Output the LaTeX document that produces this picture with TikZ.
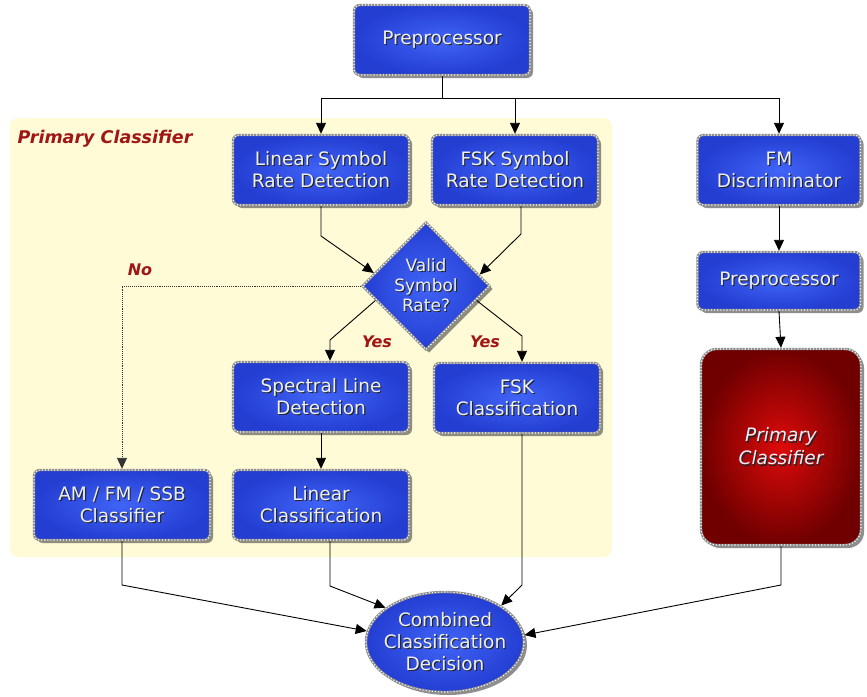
\documentclass[tikz,border=0pt]{standalone}
\usepackage{fontspec}
\setmainfont{DejaVu Sans}
\usetikzlibrary{arrows.meta,shapes.geometric,shadows}

\definecolor{boxin}{RGB}{64,100,246}
\definecolor{boxout}{RGB}{36,62,210}
\definecolor{redin}{RGB}{222,10,10}
\definecolor{redout}{RGB}{112,0,0}
\definecolor{panel}{RGB}{255,251,214}
\definecolor{lbl}{RGB}{160,22,22}
\definecolor{rim}{RGB}{140,140,140}
\definecolor{capt}{RGB}{236,240,250}

% pale caption with a dark offset copy behind it
\newcommand\shd[1]{\leavevmode\rlap{\kern1.2pt\raisebox{-1.2pt}{\textcolor{black!85}{#1}}}#1}

\tikzset{
  base/.style={text=capt, align=center,
    draw=rim, line width=2.4pt,
    drop shadow={shadow xshift=3pt, shadow yshift=-3pt, opacity=0.55, fill=black!80},
    postaction={draw=white, line width=1.1pt, dotted}},
  bluebox/.style={base, rectangle, rounded corners=6pt,
    inner color=boxin, outer color=boxout,
    font=\fontsize{18.5pt}{22pt}\selectfont,
    minimum width=176pt, minimum height=70pt, inner sep=2pt},
  redbox/.style={base, rectangle, rounded corners=16pt,
    inner color=redin, outer color=redout,
    font=\fontsize{18.5pt}{23pt}\selectfont\itshape,
    minimum width=160pt, minimum height=196pt},
  dia/.style={base, diamond, inner color=boxin, outer color=boxout,
    minimum width=128pt, minimum height=128pt, inner sep=0pt},
  ell/.style={base, ellipse, inner color=boxin, outer color=boxout,
    minimum width=158pt, minimum height=100pt, inner sep=0pt},
  dtext/.style={text=capt, align=center, inner sep=0pt,
    font=\fontsize{17pt}{20pt}\selectfont},
  etext/.style={text=capt, align=center, inner sep=0pt,
    font=\fontsize{18.5pt}{22pt}\selectfont},
  lab/.style={text=lbl, inner sep=0pt,
    font=\fontsize{16pt}{19pt}\selectfont\bfseries\itshape},
  line/.style={draw=black, line width=0.9pt},
  arr/.style={line, -{Triangle[length=11pt,width=10pt]}},
  dotarr/.style={draw=black!80, line width=0.9pt, densely dotted,
    -{Triangle[length=11pt,width=10pt]}},
}

\begin{document}
\begin{tikzpicture}[x=1pt,y=-1pt]
\useasboundingbox (0,0) rectangle (867,696);
\fill[white] (0,0) rectangle (867,696);

% shaded panel holding the primary classifier stage
\fill[panel, rounded corners=8pt] (10,118) rectangle (612,557);
\node[lab, font=\fontsize{17.5pt}{20pt}\selectfont\bfseries\itshape] (title) at (105,139) {Primary Classifier};

% process boxes
\node[bluebox] (pre) at (442,40) {\shd{Preprocessor}};
\node[bluebox] (lsr) at (321,170) {\shd{Linear Symbol}\\\shd{Rate Detection}};
\node[bluebox, minimum width=166pt] (fsr) at (515,170) {\shd{FSK Symbol}\\\shd{Rate Detection}};
\node[bluebox, minimum width=163pt] (fmd) at (779,170) {\shd{FM}\\\shd{Discriminator}};
\node[bluebox, minimum width=163pt, minimum height=58pt] (pre2) at (779,281) {\shd{Preprocessor}};
\node[redbox] (pc) at (781,447) {\shd{Primary}\\\shd{Classifier}};

\node[dia] (vsr) at (426,286) {};
\node[dtext] (vsrt) at (vsr) {\shd{Valid}\\\shd{Symbol}\\\shd{Rate?}};

\node[bluebox] (sld) at (321,397) {\shd{Spectral Line}\\\shd{Detection}};
\node[bluebox, minimum width=166pt] (fskc) at (517,398) {\shd{FSK}\\\shd{Classification}};
\node[bluebox] (amc) at (122,505) {\shd{AM / FM / SSB}\\\shd{Classifier}};
\node[bluebox] (lc) at (321,505) {\shd{Linear}\\\shd{Classification}};

\node[ell] (ccd) at (445,642) {};
\node[etext] (ccdt) at (ccd) {\shd{Combined}\\\shd{Classification}\\\shd{Decision}};

% fan-out from the preprocessor
\coordinate (split) at (442,98);
\draw[line] (pre.south) -- (split);
\draw[line] (split -| lsr) -- (split -| fmd);
\draw[arr] (split -| lsr) -- (lsr.north);
\draw[arr] (split -| fsr) -- (fsr.north);
\draw[arr] (split -| fmd) -- (fmd.north);

% into the decision
\coordinate (b1) at (321,236);
\coordinate (b2) at (521,234);
\draw[arr] (lsr.south) -- (b1) -- (vsr.166);
\draw[arr] (fsr.south -| b2) -- (b2) -- (vsr.12);

% out of the decision
\coordinate (b3) at (330,340);
\coordinate (b4) at (522,336);
\draw[arr] (vsr.196) -- (b3) -- (b3 |- sld.north);
\draw[arr] (vsr.344) -- (b4) -- (b4 |- fskc.north);
\node[lab] (yes1) at (377,342) {Yes};
\node[lab] (yes2) at (485,342) {Yes};
\draw[dotarr] (vsr.west) -- (vsr.west -| amc) -- (amc.north);
\node[lab] (no) at (140,270) {No};

\draw[arr] (sld.south) -- (lc.north);

% right branch
\draw[arr] (fmd.south) -- (pre2.north);
\draw[arr] (pre2.south) -- (pc.north);

% merge into the combined decision
\coordinate (c1) at (122,585);
\coordinate (c2) at (330,586);
\coordinate (c3) at (522,585);
\coordinate (c4) at (781,585);
\draw[arr] (amc.south) -- (c1) -- (ccd.172);
\draw[arr] (lc.south -| c2) -- (c2) -- (ccd.150);
\draw[arr] (fskc.south -| c3) -- (c3) -- (ccd.33);
\draw[arr] (pc.south) -- (c4) -- (ccd.5);
\end{tikzpicture}
\end{document}
